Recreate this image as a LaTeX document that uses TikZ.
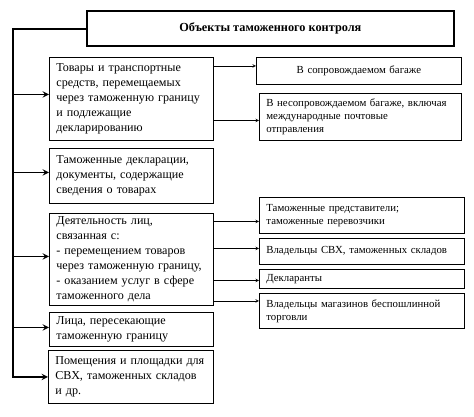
\documentclass[tikz,border=0pt]{standalone}
\usepackage{fontspec}
\setmainfont{Liberation Serif}
\usetikzlibrary{arrows,positioning}

\begin{document}
\begin{tikzpicture}[x=1pt,y=-1pt,
    titlebox/.style={draw,line width=1.8pt,anchor=north west,font=\fontsize{12.3}{15}\selectfont\bfseries},
    leftbox/.style={draw,line width=0.8pt,anchor=north west,align=left,inner xsep=7pt,font=\fontsize{12.1}{15}\selectfont},
    rightbox/.style={draw,line width=0.8pt,anchor=north west,align=left,inner xsep=7pt,font=\fontsize{10.8}{13}\selectfont},
    feed/.style={line width=1.8pt,-stealth},
    branch/.style={line width=0.6pt,-stealth}]
  \useasboundingbox (0,0) rectangle (474,416);
  %title
  \node[titlebox,minimum width=367pt,minimum height=35pt] (title) at (86,10) {Объекты таможенного контроля};
  \coordinate (corner) at (13,29);
  %left
  \node[leftbox,text width=150pt,minimum height=83pt] (box1) at (49,57)
    {Товары и транспортные\\ средств, перемещаемых\\ через таможенную границу\\ и подлежащие\\ декларированию};
  \node[leftbox,text width=150pt,minimum height=55pt] (box2) at (49,148)
    {Таможенные декларации,\\ документы, содержащие\\ сведения о товарах};
  \node[leftbox,text width=150pt,minimum height=92pt] (box3) at (49,213)
    {Деятельность лиц,\\ связанная с:\\ - перемещением товаров\\ через таможенную границу,\\ - оказанием услуг в сфере\\ таможенного дела};
  \node[leftbox,text width=150pt,minimum height=34pt] (box4) at (49,312)
    {Лица, пересекающие\\ таможенную границу};
  \node[leftbox,text width=151pt,minimum height=53pt] (box5) at (48,350)
    {Помещения и площадки для\\ СВХ, таможенных складов\\ и др.};
  %right
  \node[rightbox,align=center,text width=191pt,minimum height=27pt] (r1) at (256,57) {В сопровождаемом багаже};
  \node[rightbox,text width=188pt,minimum height=47pt] (r2) at (259,93)
    {В несопровождаемом багаже, включая\\ международные почтовые\\ отправления};
  \node[rightbox,text width=191pt,minimum height=36pt] (r3) at (259,197)
    {Таможенные представители;\\ таможенные перевозчики};
  \node[rightbox,text width=191pt,minimum height=26pt] (r4) at (259,238) {Владельцы СВХ, таможенных складов};
  \node[rightbox,text width=191pt,minimum height=19pt,inner ysep=1pt] (r5) at (259,269) {Декларанты};
  \node[rightbox,text width=191pt,minimum height=35pt] (r6) at (259,293)
    {Владельцы магазинов беспошлинной\\ торговли};
  %trunk
  \draw[feed] (title.west |- corner) -- (corner) |- (box5.west);
  \foreach \dst/\dy in {box1/4.5, box2/3.5, box3/3, box4/2}
    \draw[feed] ([yshift=\dy pt]\dst.west -| corner) -- ([yshift=\dy pt]\dst.west);
  %branches
  \foreach \src/\dst/\dy in {box1/r1/5, box1/r2/-3.5, box3/r3/-6, box3/r4/3, box3/r5/-1.5, box3/r6/10}
    \draw[branch] ([yshift=\dy pt]\dst.west -| \src.east) -- ([yshift=\dy pt]\dst.west);
\end{tikzpicture}
\end{document}
